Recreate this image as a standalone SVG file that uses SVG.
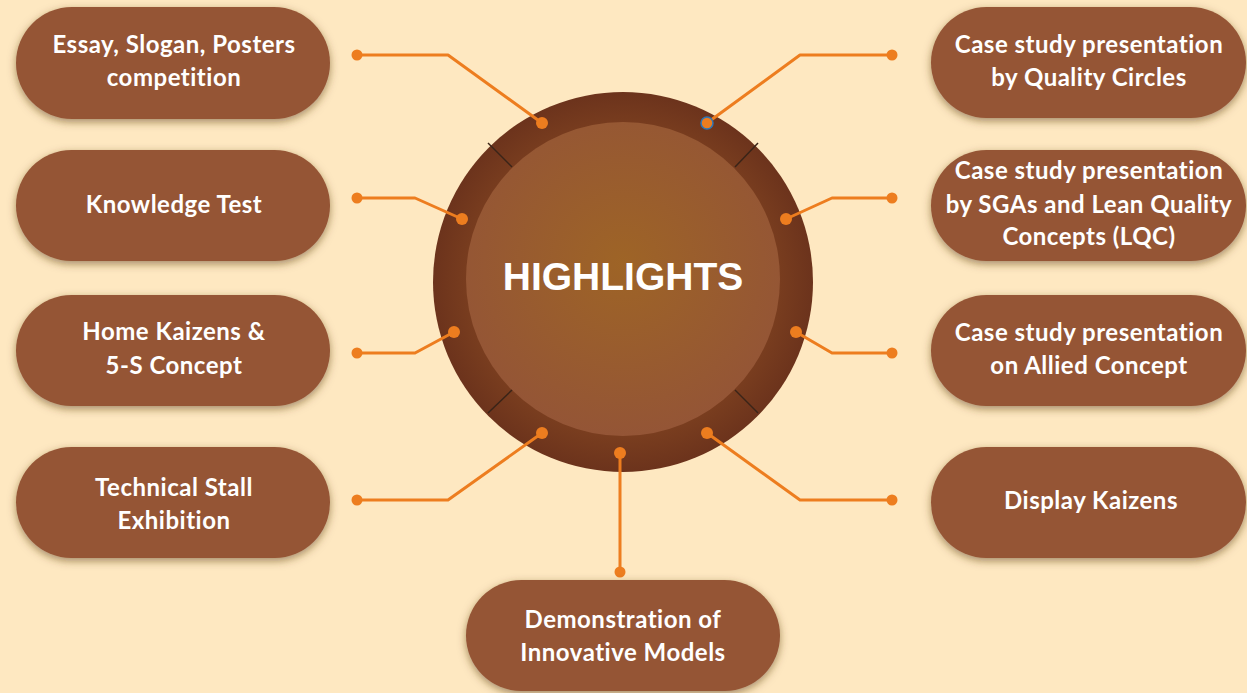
<svg xmlns="http://www.w3.org/2000/svg" width="1247" height="693" viewBox="0 0 1247 693">
<defs>
<filter id="sh" x="-10%" y="-20%" width="120%" height="150%">
<feDropShadow dx="0" dy="3" stdDeviation="4" flood-color="#5a3a12" flood-opacity="0.55"/>
</filter>
<radialGradient id="inner" cx="50%" cy="45%" r="55%">
<stop offset="0" stop-color="#9E6426"/>
<stop offset="1" stop-color="#945536"/>
</radialGradient>
<radialGradient id="ring" cx="50%" cy="50%" r="50%">
<stop offset="0.8" stop-color="#7A3E1F"/>
<stop offset="1" stop-color="#6C331C"/>
</radialGradient>
</defs>
<style>
.node{fill:#955535;filter:url(#sh)}
.t{font-family:Lato,"Open Sans",sans-serif;font-weight:bold;font-size:24px;letter-spacing:0.5px;font-variant-ligatures:none;fill:#ffffff;text-anchor:middle}
.c{fill:none;stroke:#ED7D1F;stroke-width:3;stroke-linejoin:round}
.d{fill:#ED7D1F}
.tick{stroke:#3a2418;stroke-width:1.5}
</style>
<rect width="1247" height="693" fill="#FEE8C1"/>

<g id="center">
<circle cx="623" cy="282" r="190" fill="url(#ring)"/>
<circle cx="623" cy="279" r="157" fill="url(#inner)"/>
<line class="tick" x1="488" y1="143" x2="512" y2="167"/>
<line class="tick" x1="758" y1="143" x2="735" y2="167"/>
<line class="tick" x1="488" y1="413" x2="512" y2="390"/>
<line class="tick" x1="758" y1="413" x2="735" y2="390"/>
<text x="623" y="290" font-family="'Liberation Sans',Arial,sans-serif" font-weight="bold" font-size="39" fill="#ffffff" text-anchor="middle">HIGHLIGHTS</text>
</g>

<g id="connectors">
<polyline class="c" points="542,123 448,55 357,55"/>
<polyline class="c" points="707,123 800,55 892,55"/>
<polyline class="c" points="462,219 415,198 357,198"/>
<polyline class="c" points="786,219 832,198 892,198"/>
<polyline class="c" points="454,332 415,353 357,353"/>
<polyline class="c" points="796,332 832,353 892,353"/>
<polyline class="c" points="542,433 448,500 357,500"/>
<polyline class="c" points="707,433 800,500 892,500"/>
<polyline class="c" points="620,453 620,572"/>
<circle class="d" cx="542" cy="123" r="6"/>
<circle class="d" cx="357" cy="55" r="5.5"/>
<circle class="d" cx="707" cy="123" r="6" stroke="#2E75B6" stroke-width="1.5"/>
<circle class="d" cx="892" cy="55" r="5.5"/>
<circle class="d" cx="462" cy="219" r="6"/>
<circle class="d" cx="357" cy="198" r="5.5"/>
<circle class="d" cx="786" cy="219" r="6"/>
<circle class="d" cx="892" cy="198" r="5.5"/>
<circle class="d" cx="454" cy="332" r="6"/>
<circle class="d" cx="357" cy="353" r="5.5"/>
<circle class="d" cx="796" cy="332" r="6"/>
<circle class="d" cx="892" cy="353" r="5.5"/>
<circle class="d" cx="542" cy="433" r="6"/>
<circle class="d" cx="357" cy="500" r="5.5"/>
<circle class="d" cx="707" cy="433" r="6"/>
<circle class="d" cx="892" cy="500" r="5.5"/>
<circle class="d" cx="620" cy="453" r="6"/>
<circle class="d" cx="620" cy="572" r="5.5"/>
</g>

<g id="n-essay">
<rect class="node" x="16" y="7" width="314" height="112" rx="56"/>
<text class="t" x="174" y="53">Essay, Slogan, Posters</text>
<text class="t" x="174" y="86">competition</text>
</g>
<g id="n-knowledge">
<rect class="node" x="16" y="150" width="314" height="111" rx="55.5"/>
<text class="t" x="174" y="213">Knowledge Test</text>
</g>
<g id="n-home">
<rect class="node" x="16" y="295" width="314" height="111" rx="55.5"/>
<text class="t" x="174" y="340">Home Kaizens &amp;</text>
<text class="t" x="174" y="374">5-S Concept</text>
</g>
<g id="n-technical">
<rect class="node" x="16" y="447" width="314" height="111" rx="55.5"/>
<text class="t" x="174" y="496">Technical Stall</text>
<text class="t" x="174" y="529">Exhibition</text>
</g>
<g id="n-qc">
<rect class="node" x="931" y="7" width="315" height="111" rx="55.5"/>
<text class="t" x="1089" y="53">Case study presentation</text>
<text class="t" x="1089" y="86">by Quality Circles</text>
</g>
<g id="n-sga">
<rect class="node" x="931" y="150" width="315" height="111" rx="55.5"/>
<text class="t" x="1089" y="179">Case study presentation</text>
<text class="t" x="1089" y="213">by SGAs and Lean Quality</text>
<text class="t" x="1089" y="245">Concepts (LQC)</text>
</g>
<g id="n-allied">
<rect class="node" x="931" y="295" width="315" height="111" rx="55.5"/>
<text class="t" x="1089" y="341">Case study presentation</text>
<text class="t" x="1089" y="374">on Allied Concept</text>
</g>
<g id="n-display">
<rect class="node" x="931" y="447" width="315" height="111" rx="55.5"/>
<text class="t" x="1091" y="509">Display Kaizens</text>
</g>
<g id="n-demo">
<rect class="node" x="466" y="580" width="314" height="111" rx="55.5"/>
<text class="t" x="623" y="628">Demonstration of</text>
<text class="t" x="623" y="661">Innovative Models</text>
</g>
</svg>
